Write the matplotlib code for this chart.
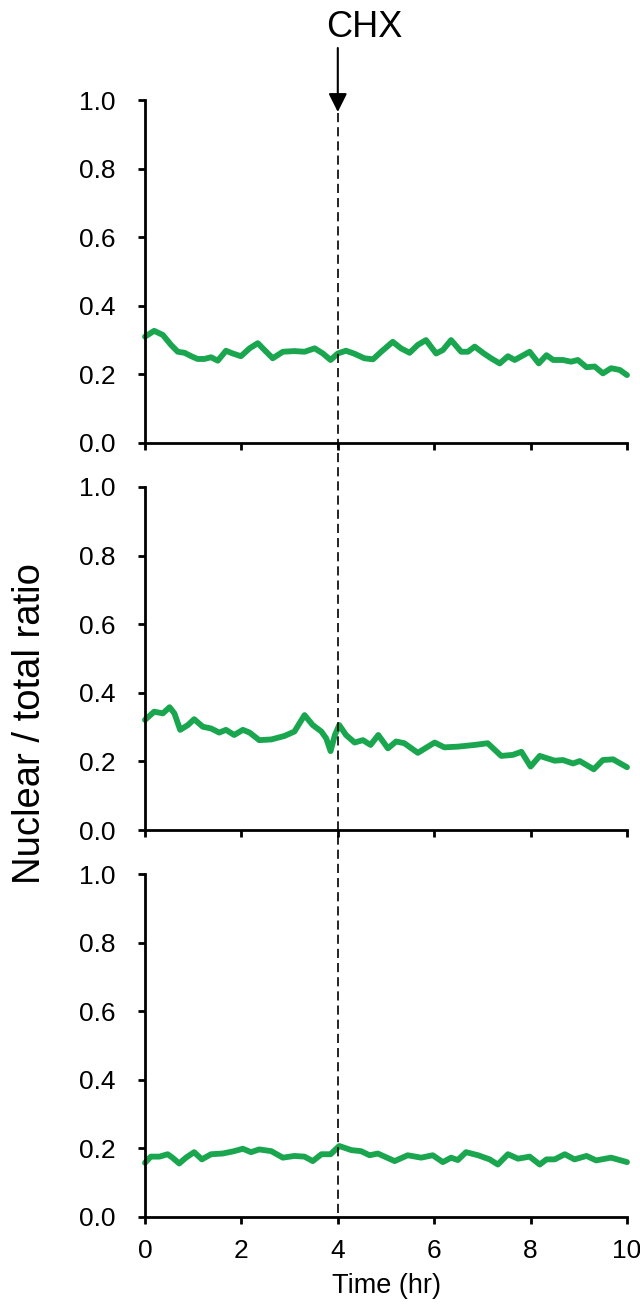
import matplotlib
matplotlib.use('Agg')
import matplotlib.pyplot as plt
import matplotlib.transforms as mtransforms
from matplotlib.lines import Line2D

plt.rcParams['font.family'] = ['Liberation Sans', 'DejaVu Sans']

# Nuclear / total ratio traces, one per cell (time in hr)
t_a = [0.0, 0.19, 0.37, 0.54, 0.68, 0.82, 0.96, 1.09, 1.23, 1.37, 1.51, 1.68, 1.82, 1.99,
       2.17, 2.34, 2.48, 2.65, 2.86, 3.10, 3.31, 3.52, 3.69, 3.85, 4.0, 4.17, 4.35, 4.55,
       4.73, 4.90, 5.14, 5.31, 5.49, 5.66, 5.83, 6.04, 6.18, 6.35, 6.56, 6.70, 6.84, 7.04,
       7.18, 7.36, 7.53, 7.67, 7.98, 8.17, 8.33, 8.47, 8.67, 8.84, 8.98, 9.16, 9.33, 9.50,
       9.67, 9.85, 10.0]
r_a = [0.310, 0.327, 0.315, 0.286, 0.266, 0.263, 0.253, 0.245, 0.245, 0.250, 0.240, 0.269,
       0.261, 0.253, 0.276, 0.291, 0.271, 0.247, 0.266, 0.268, 0.266, 0.276, 0.261, 0.242,
       0.261, 0.269, 0.260, 0.247, 0.244, 0.266, 0.295, 0.276, 0.263, 0.286, 0.300, 0.261,
       0.271, 0.300, 0.266, 0.266, 0.281, 0.260, 0.247, 0.232, 0.253, 0.242, 0.266, 0.232,
       0.256, 0.242, 0.242, 0.237, 0.242, 0.221, 0.223, 0.203, 0.218, 0.213, 0.198]

t_b = [0.0, 0.19, 0.37, 0.51, 0.61, 0.73, 0.89, 1.02, 1.20, 1.37, 1.54, 1.68, 1.85, 2.03,
       2.17, 2.37, 2.62, 2.89, 3.10, 3.31, 3.48, 3.66, 3.76, 3.85, 3.94, 4.03, 4.17, 4.35,
       4.52, 4.68, 4.84, 5.04, 5.21, 5.38, 5.66, 6.01, 6.21, 6.49, 6.84, 7.11, 7.39, 7.63,
       7.81, 8.00, 8.19, 8.50, 8.67, 8.88, 9.02, 9.31, 9.50, 9.71, 10.0]
r_b = [0.321, 0.345, 0.340, 0.358, 0.340, 0.292, 0.306, 0.323, 0.301, 0.296, 0.284, 0.292,
       0.277, 0.292, 0.284, 0.262, 0.264, 0.274, 0.287, 0.335, 0.306, 0.287, 0.267, 0.230,
       0.277, 0.306, 0.277, 0.255, 0.262, 0.248, 0.277, 0.238, 0.258, 0.253, 0.225, 0.255,
       0.241, 0.243, 0.248, 0.253, 0.216, 0.219, 0.228, 0.185, 0.216, 0.202, 0.204, 0.194,
       0.201, 0.177, 0.204, 0.206, 0.183]

t_c = [0.0, 0.12, 0.30, 0.47, 0.57, 0.71, 0.85, 1.02, 1.18, 1.37, 1.61, 1.85, 2.03, 2.20,
       2.37, 2.62, 2.86, 3.10, 3.31, 3.48, 3.66, 3.85, 4.03, 4.28, 4.48, 4.66, 4.83, 5.18,
       5.45, 5.73, 5.97, 6.18, 6.35, 6.49, 6.66, 6.91, 7.15, 7.32, 7.53, 7.74, 7.98, 8.19,
       8.33, 8.50, 8.71, 8.91, 9.16, 9.36, 9.67, 10.0]
r_c = [0.158, 0.176, 0.176, 0.183, 0.173, 0.156, 0.173, 0.189, 0.168, 0.183, 0.185, 0.192,
       0.199, 0.189, 0.197, 0.192, 0.173, 0.178, 0.176, 0.163, 0.183, 0.183, 0.207, 0.195,
       0.192, 0.180, 0.185, 0.163, 0.180, 0.173, 0.180, 0.160, 0.173, 0.166, 0.189, 0.180,
       0.168, 0.153, 0.183, 0.170, 0.176, 0.153, 0.168, 0.168, 0.183, 0.168, 0.178, 0.165,
       0.173, 0.160]

traces = [(t_a, r_a), (t_b, r_b), (t_c, r_c)]
yticks = [0.0, 0.2, 0.4, 0.6, 0.8, 1.0]
xticks = [0, 2, 4, 6, 8, 10]
chx_time = 4.0

W, H = 640, 1304
GREEN = '#1aa64f'
fig = plt.figure(figsize=(W / 100, H / 100), dpi=100)

left, width = 145 / W, 482 / W
bottoms = [1217, 830, 443]  # pixel rows of y = 0 for each panel (top panel last)
panel_h = 343 / H

axes = []
for i, (t, r) in enumerate(traces):
    y0 = bottoms[2 - i]
    ax = fig.add_axes([left, 1 - y0 / H, width, panel_h])
    ax.plot(t, r, color=GREEN, lw=4.2, solid_joinstyle='round', solid_capstyle='round',
            clip_on=False)
    ax.set_xlim(0, 10)
    ax.set_ylim(0, 1.0)
    ax.set_xticks(xticks)
    ax.set_yticks(yticks)
    ax.set_yticklabels([f'{v:.1f}' for v in yticks])
    for s in ('top', 'right'):
        ax.spines[s].set_visible(False)
    for s in ('left', 'bottom'):
        ax.spines[s].set_linewidth(2.0)
    ax.tick_params(direction='out', length=5, width=2.0, labelsize=19)
    ax.tick_params(axis='y', pad=16)
    ax.tick_params(axis='x', pad=11)
    if i < 2:
        ax.tick_params(axis='x', labelbottom=False)
    axes.append(ax)

ax_bot = axes[-1]
ax_bot.set_xlabel('Time (hr)', fontsize=19.5, labelpad=7)

# CHX addition: dashed marker through every panel
trans = mtransforms.blended_transform_factory(ax_bot.transData, fig.transFigure)
fig.add_artist(Line2D([chx_time, chx_time], [1 - 113 / H, 1 - 1217 / H], transform=trans,
                      color='black', lw=1.2, linestyle=(0, (5.5, 3.0)), zorder=5))
fig.add_artist(matplotlib.patches.FancyArrowPatch(
    (chx_time, 1 - 48 / H), (chx_time, 1 - 112 / H), transform=trans,
    arrowstyle='-|>', mutation_scale=28, lw=1.5, color='black',
    shrinkA=0, shrinkB=0))
fig.text(364 / W, 1 - 37 / H, 'CHX', ha='center', va='baseline', fontsize=26)

fig.text(30 / W, 1 - 724 / H, 'Nuclear / total ratio', rotation=90,
         ha='center', va='center', fontsize=27.5)

fig.savefig('out.png', dpi=100, facecolor='white')
